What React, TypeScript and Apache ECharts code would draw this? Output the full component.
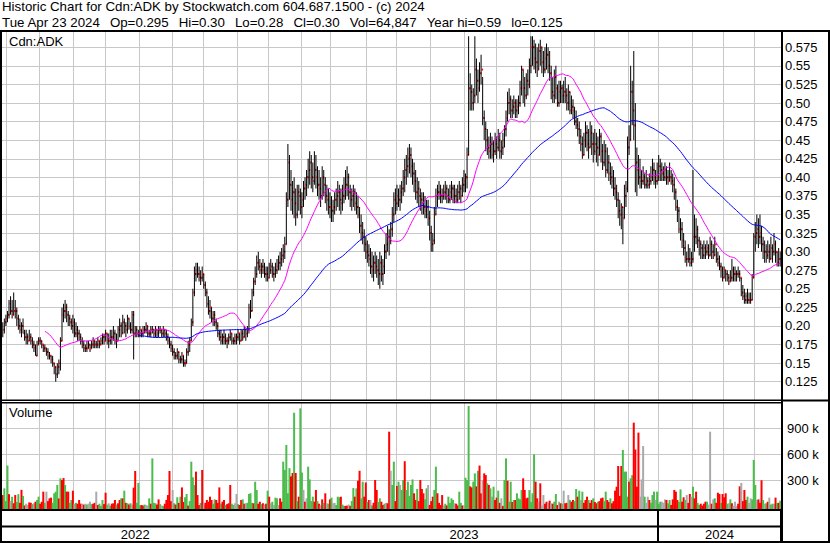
import React, { useEffect, useRef } from "react";
import * as echarts from "echarts";

// ---------- DATA ----------
const START_DATE = "2022-04-27";
const HOLIDAYS = [
  "2022-05-23", "2022-07-01", "2022-08-01", "2022-09-05", "2022-10-10", "2022-12-26", "2022-12-27",
  "2023-01-02", "2023-02-20", "2023-04-07", "2023-05-22", "2023-07-03", "2023-08-07", "2023-09-04",
  "2023-10-09", "2023-12-25", "2023-12-26", "2024-01-01", "2024-02-19", "2024-03-29",
];

const HIGH = [
  .205,.21,.215,.22,.235,.24,.235,.245,.235,.225,
  .215,.21,.205,.21,.195,.195,.19,.195,.19,.185,
  .18,.175,.18,.185,.185,.18,.175,.175,.17,.17,
  .165,.16,.16,.15,.145,.15,.155,.185,.225,.23,
  .235,.23,.22,.215,.21,.215,.21,.205,.20,.195,
  .19,.185,.18,.175,.18,.18,.175,.18,.185,.18,
  .18,.185,.18,.185,.19,.19,.195,.19,.19,.195,
  .195,.20,.195,.19,.20,.21,.205,.215,.21,.205,
  .215,.21,.205,.22,.22,.20,.20,.195,.20,.195,
  .20,.20,.205,.20,.195,.20,.20,.195,.20,.195,
  .20,.20,.195,.20,.195,.195,.19,.185,.18,.175,
  .17,.165,.17,.165,.16,.165,.16,.155,.17,.18,
  .185,.21,.25,.28,.285,.285,.28,.275,.28,.27,
  .26,.25,.24,.235,.225,.22,.22,.21,.205,.195,
  .195,.19,.195,.19,.185,.19,.195,.19,.185,.19,
  .19,.195,.19,.195,.195,.20,.195,.20,.23,.235,
  .25,.265,.28,.295,.30,.29,.285,.29,.285,.28,
  .28,.285,.29,.285,.28,.285,.29,.295,.30,.305,
  .31,.32,.38,.445,.43,.41,.395,.40,.385,.39,
  .39,.385,.38,.395,.40,.41,.425,.435,.43,.42,
  .435,.43,.415,.41,.40,.415,.41,.40,.39,.385,
  .38,.375,.37,.38,.385,.395,.39,.385,.39,.40,
  .41,.415,.405,.39,.385,.39,.385,.38,.375,.36,
  .35,.34,.33,.32,.315,.31,.305,.30,.295,.30,
  .295,.29,.30,.295,.29,.31,.325,.335,.33,.34,
  .36,.38,.385,.39,.385,.39,.395,.41,.425,.43,
  .44,.445,.44,.425,.42,.41,.40,.395,.385,.38,
  .38,.375,.37,.37,.355,.335,.325,.36,.385,.39,
  .395,.39,.385,.39,.395,.39,.385,.39,.395,.39,
  .39,.385,.39,.395,.39,.40,.41,.405,.44,.59,
  .54,.525,.52,.59,.56,.545,.555,.565,.535,.49,
  .475,.465,.455,.46,.455,.45,.46,.455,.465,.46,
  .45,.46,.47,.49,.515,.52,.51,.505,.51,.505,
  .505,.51,.53,.55,.545,.535,.54,.545,.56,.59,
  .59,.585,.58,.575,.58,.585,.575,.57,.575,.58,
  .575,.57,.55,.535,.545,.55,.525,.53,.53,.525,
  .53,.535,.52,.525,.515,.51,.505,.495,.49,.48,
  .475,.465,.455,.46,.475,.47,.465,.475,.47,.46,
  .465,.46,.455,.465,.46,.445,.45,.445,.44,.43,
  .42,.415,.41,.40,.39,.38,.37,.365,.36,.39,
  .395,.455,.47,.55,.53,.57,.50,.44,.43,.425,
  .41,.415,.405,.41,.40,.405,.415,.425,.42,.41,
  .42,.43,.425,.42,.415,.42,.415,.41,.42,.41,
  .405,.40,.385,.37,.36,.345,.34,.325,.315,.30,
  .31,.305,.30,.41,.35,.345,.335,.32,.315,.31,
  .315,.31,.315,.31,.32,.315,.31,.32,.305,.30,
  .295,.285,.28,.28,.275,.275,.27,.275,.29,.28,
  .28,.275,.28,.275,.265,.255,.25,.245,.25,.245,
  .245,.27,.325,.34,.35,.345,.35,.335,.32,.315,
  .31,.315,.31,.32,.31,.325,.315,.30,.305,.30,
];

const LOW = [
  .185,.19,.20,.205,.21,.215,.21,.215,.21,.20,
  .195,.19,.185,.19,.18,.175,.175,.18,.175,.17,
  .165,.16,.16,.175,.175,.17,.165,.165,.16,.155,
  .155,.15,.145,.135,.125,.13,.135,.14,.18,.205,
  .21,.205,.20,.20,.195,.19,.185,.185,.18,.18,
  .175,.17,.165,.165,.165,.17,.165,.17,.17,.17,
  .17,.17,.17,.175,.175,.175,.18,.175,.17,.175,
  .175,.18,.175,.17,.18,.185,.185,.19,.19,.185,
  .19,.195,.19,.19,.155,.185,.185,.185,.185,.185,
  .185,.19,.19,.185,.185,.185,.19,.185,.185,.185,
  .185,.19,.185,.185,.185,.18,.175,.17,.165,.16,
  .155,.155,.155,.15,.15,.15,.145,.145,.15,.16,
  .165,.18,.20,.24,.26,.265,.26,.255,.26,.25,
  .24,.225,.215,.21,.205,.20,.20,.195,.185,.18,
  .175,.175,.175,.175,.17,.175,.18,.175,.175,.175,
  .175,.18,.175,.18,.18,.185,.18,.185,.19,.21,
  .22,.24,.255,.265,.275,.27,.265,.27,.265,.26,
  .26,.265,.27,.265,.26,.265,.27,.275,.275,.28,
  .285,.29,.31,.36,.37,.355,.35,.345,.335,.345,
  .355,.35,.345,.36,.37,.375,.385,.39,.385,.38,
  .39,.385,.375,.37,.36,.37,.375,.365,.355,.35,
  .345,.34,.34,.35,.355,.36,.355,.35,.355,.365,
  .37,.375,.37,.36,.355,.36,.355,.35,.345,.325,
  .315,.31,.30,.29,.285,.28,.27,.265,.26,.27,
  .265,.255,.25,.26,.255,.27,.29,.30,.295,.31,
  .32,.34,.35,.355,.36,.355,.365,.375,.38,.39,
  .40,.405,.40,.39,.38,.37,.365,.36,.355,.35,
  .35,.345,.345,.335,.315,.30,.30,.31,.35,.36,
  .37,.365,.365,.37,.37,.365,.365,.365,.37,.365,
  .365,.365,.365,.37,.365,.375,.38,.38,.385,.43,
  .49,.49,.49,.50,.51,.50,.515,.525,.47,.45,
  .435,.43,.425,.425,.425,.42,.43,.425,.435,.425,
  .425,.43,.44,.455,.475,.485,.48,.48,.485,.48,
  .48,.485,.495,.51,.50,.495,.505,.51,.52,.54,
  .55,.545,.54,.535,.545,.55,.54,.535,.54,.545,
  .54,.53,.505,.50,.50,.505,.495,.495,.50,.50,
  .50,.50,.49,.49,.485,.485,.48,.47,.465,.455,
  .445,.435,.425,.43,.44,.435,.425,.44,.43,.42,
  .43,.42,.415,.43,.42,.41,.415,.40,.405,.395,
  .39,.385,.375,.37,.36,.345,.335,.33,.31,.345,
  .36,.38,.43,.45,.47,.45,.38,.375,.39,.385,
  .385,.39,.385,.385,.385,.385,.39,.395,.39,.385,
  .39,.395,.395,.395,.395,.395,.39,.39,.395,.39,
  .38,.37,.355,.34,.325,.315,.305,.295,.285,.28,
  .285,.28,.28,.285,.30,.31,.305,.295,.29,.29,
  .29,.29,.295,.29,.295,.29,.29,.295,.285,.28,
  .275,.265,.26,.265,.26,.26,.255,.26,.26,.26,
  .26,.26,.265,.26,.24,.235,.23,.23,.23,.23,
  .23,.235,.265,.30,.31,.305,.31,.30,.29,.285,
  .285,.29,.285,.29,.285,.295,.285,.28,.28,.28,
];

const CLOSE = [
  .195,.205,.21,.215,.23,.22,.215,.22,.22,.21,
  .20,.195,.20,.19,.185,.185,.18,.185,.18,.175,
  .17,.16,.175,.18,.18,.175,.17,.17,.165,.16,
  .16,.155,.15,.145,.135,.145,.15,.18,.215,.22,
  .225,.215,.21,.205,.20,.205,.19,.195,.19,.185,
  .18,.175,.17,.17,.17,.175,.17,.175,.18,.175,
  .175,.18,.175,.18,.185,.18,.19,.18,.18,.185,
  .185,.19,.18,.18,.195,.20,.19,.205,.20,.195,
  .21,.20,.195,.215,.19,.195,.19,.19,.195,.19,
  .195,.195,.20,.19,.19,.195,.195,.19,.195,.19,
  .195,.195,.19,.195,.19,.185,.18,.175,.17,.165,
  .16,.16,.165,.155,.155,.16,.15,.15,.165,.175,
  .18,.205,.245,.27,.275,.27,.265,.265,.27,.255,
  .245,.23,.22,.225,.21,.215,.205,.20,.19,.185,
  .18,.185,.18,.18,.18,.185,.19,.18,.18,.185,
  .185,.19,.18,.19,.185,.195,.19,.195,.225,.22,
  .245,.26,.27,.285,.28,.275,.28,.275,.27,.27,
  .265,.275,.28,.27,.27,.275,.28,.285,.29,.295,
  .30,.31,.37,.42,.39,.37,.38,.365,.35,.38,
  .375,.36,.37,.385,.39,.40,.41,.42,.40,.395,
  .41,.40,.39,.385,.375,.40,.39,.375,.37,.36,
  .36,.355,.36,.37,.375,.38,.37,.365,.375,.385,
  .39,.40,.38,.37,.375,.38,.365,.36,.35,.335,
  .325,.32,.31,.30,.295,.29,.28,.275,.285,.28,
  .275,.27,.285,.27,.28,.30,.31,.32,.315,.33,
  .35,.37,.365,.375,.37,.38,.385,.40,.41,.415,
  .425,.43,.415,.405,.395,.38,.385,.375,.37,.365,
  .36,.355,.36,.345,.325,.31,.315,.35,.375,.38,
  .38,.375,.375,.38,.385,.375,.37,.38,.385,.375,
  .375,.37,.38,.385,.375,.39,.395,.40,.43,.52,
  .515,.50,.51,.545,.53,.52,.54,.545,.48,.465,
  .45,.44,.435,.445,.43,.435,.445,.44,.45,.435,
  .44,.45,.465,.48,.50,.505,.49,.495,.50,.49,
  .495,.50,.52,.545,.52,.51,.53,.525,.55,.575,
  .575,.56,.555,.545,.57,.575,.555,.545,.56,.565,
  .55,.54,.515,.51,.535,.52,.50,.515,.52,.51,
  .515,.51,.50,.515,.49,.495,.49,.475,.47,.465,
  .455,.445,.43,.45,.46,.445,.44,.46,.445,.435,
  .445,.44,.43,.455,.435,.42,.435,.41,.42,.405,
  .40,.395,.385,.38,.37,.355,.35,.36,.345,.375,
  .385,.44,.45,.515,.49,.47,.42,.41,.40,.395,
  .395,.40,.39,.395,.39,.395,.40,.41,.40,.395,
  .40,.415,.41,.405,.40,.41,.40,.395,.40,.395,
  .39,.38,.36,.355,.33,.33,.315,.305,.29,.29,
  .29,.285,.29,.32,.32,.33,.315,.31,.305,.295,
  .305,.30,.305,.295,.31,.30,.295,.31,.29,.285,
  .28,.275,.265,.275,.27,.265,.26,.265,.275,.27,
  .27,.27,.27,.265,.245,.24,.235,.24,.235,.235,
  .235,.265,.32,.325,.33,.32,.325,.31,.30,.30,
  .295,.30,.29,.305,.30,.31,.30,.285,.29,.30,
];

// daily volume in thousands of shares
const VOLUME_K = [
  130,207,60,470,140,60,110,35,130,50,
  140,40,190,120,10,30,15,45,40,25,
  35,53,73,111,30,53,169,40,169,60,
  92,100,40,150,169,246,90,323,303,326,
  246,169,169,40,73,180,30,40,30,73,
  30,30,20,30,20,30,53,25,30,40,
  169,15,30,5,73,25,157,20,35,8,
  30,35,73,20,35,73,92,92,180,40,
  35,20,35,20,215,407,40,270,10,15,
  8,20,15,8,92,30,553,40,35,20,
  80,25,8,5,30,73,130,407,60,188,
  35,20,104,40,111,218,50,104,142,8,
  60,515,335,246,400,130,15,40,419,15,
  40,73,53,111,73,30,80,73,40,218,
  30,53,73,15,25,35,246,30,15,35,
  142,25,15,73,80,30,35,40,142,150,
  40,35,284,188,30,53,25,35,20,30,
  180,111,35,53,15,100,92,15,92,53,
  515,420,707,150,440,345,385,1080,385,60,
  111,1130,390,190,53,92,457,310,60,111,
  53,188,60,30,10,80,40,150,35,30,
  80,100,35,40,15,111,104,111,20,5,
  5,8,20,5,60,210,111,207,295,410,
  90,284,111,275,50,73,73,10,40,303,
  188,50,92,53,15,30,40,35,861,410,
  246,515,60,235,284,246,188,303,520,188,
  284,120,246,310,150,73,200,60,303,200,
  150,80,207,246,15,60,111,188,457,150,
  40,15,130,10,30,10,111,40,92,73,
  35,30,10,169,40,10,10,330,303,1157,
  230,218,284,380,230,410,470,150,303,380,
  360,265,246,207,111,226,73,100,180,40,
  92,5,303,553,295,53,284,50,73,73,
  150,92,80,188,323,188,92,100,188,50,
  150,600,284,92,53,265,10,130,30,53,
  40,65,35,30,53,142,15,53,35,30,
  180,35,40,130,73,53,73,60,200,111,
  180,73,169,40,73,111,73,40,73,92,
  50,35,53,60,92,100,60,169,73,50,
  92,35,60,180,226,465,120,465,650,400,
  400,111,284,323,360,965,655,226,850,111,
  310,695,111,40,111,73,40,130,169,73,
  169,30,53,53,40,80,73,35,73,15,
  80,188,169,73,50,195,53,104,73,130,
  40,142,111,226,92,169,40,15,30,8,
  30,53,53,20,861,30,80,92,40,157,
  142,40,142,104,150,30,35,80,35,5,
  53,5,30,230,270,60,188,73,111,40,
  92,80,535,246,73,80,40,300,73,30,
  35,53,100,20,30,30,100,40,40,65,
];

// volume bar colour: u = up (green), d = down (red), n = unchanged (grey)
const VOLUME_DIR = [
  "duuudnuddu","uddudnnddu","nduudddund","dduuuududd","udduudnudd",
  "dndnunnudd","nduuuddunu","ddduddudud","udundduuud","dunnuduuud",
  "dunudddddn","udududduud","uuuudddudn","ddddduuddd","udduddduun",
  "nuddudnuuu","uduuddudnd","udnunuundd","uuuuuddudu","duundnuuuu",
  "ddudndudnu","dunnuuuduu","ddnduududd","uuddudnudd","duuddunddn",
  "uuddunuudu","uuuudduddd","duunddduud","dddnuduuuu","ndduudnuuu",
  "dduududdnd","dudunuddud","nduuduudud","uuuudddduu","uuddndnndd",
  "ndnduudndu","nddnudduud","unuddduddu","dduddduudd","uddddddduu",
  "uuduuddddn","nnunnduuun","uuunnnduud","dddduuddun","ddnudduudd",
  "ddunndnudd","dudddunudn","nnddndddun","nuuundddun","udnuundudu",
].join("");

const MA_FAST = 28;
const MA_SLOW = 88;

const TITLE_1 = "Historic Chart for Cdn:ADK by Stockwatch.com 604.687.1500 - (c) 2024";
const SEP = "\u00A0\u00A0\u2009";
const TITLE_2 = [
  "Tue Apr 23 2024", "Op=0.295", "Hi=0.30", "Lo=0.28", "Cl=0.30", "Vol=64,847", "Year hi=0.59", "lo=0.125",
].join(SEP);
const SYMBOL_LABEL = "Cdn:ADK";
const VOLUME_LABEL = "Volume";

// ---------- helpers ----------
const FONT_FAMILY = "Liberation Sans";
const FONT_SIZE = 13;
const TITLE_SIZE = 13.3;
const UP = "#4cbc4c";
const DOWN = "#ff0000";
const FLAT = "#aaaaaa";

function tradingDays(start: string, count: number): string[] {
  const out: string[] = [];
  const d = new Date(start + "T12:00:00Z");
  while (out.length < count) {
    const dow = d.getUTCDay();
    const s = d.toISOString().slice(0, 10);
    if (dow !== 0 && dow !== 6 && HOLIDAYS.indexOf(s) < 0) out.push(s);
    d.setUTCDate(d.getUTCDate() + 1);
  }
  return out;
}

function sma(arr: number[], n: number): (number | null)[] {
  return arr.map((_, i) => {
    if (i < n - 1) return null;
    let s = 0;
    for (let k = i - n + 1; k <= i; k++) s += arr[k];
    return +(s / n).toFixed(5);
  });
}

function fmtPrice(v: number): string {
  const s = v.toFixed(3);
  return s.endsWith("0") ? s.slice(0, -1) : s;
}

export default function App() {
  const ref = useRef<HTMLDivElement>(null);

  useEffect(() => {
    if (!ref.current) return;
    const chart = echarts.init(ref.current, undefined, { renderer: "svg" });

    const N = CLOSE.length;
    const dates = tradingDays(START_DATE, N);
    const monthStart = new Set<number>();
    const yearStart = new Set<number>();
    const yearRanges: { year: string; first: number; last: number }[] = [];
    dates.forEach((d, i) => {
      const y = d.slice(0, 4);
      if (i > 0 && d.slice(0, 7) !== dates[i - 1].slice(0, 7)) monthStart.add(i);
      if (i > 0 && y !== dates[i - 1].slice(0, 4)) yearStart.add(i);
      const last = yearRanges[yearRanges.length - 1];
      if (!last || last.year !== y) yearRanges.push({ year: y, first: i, last: i });
      else last.last = i;
    });
    const yearLabels = yearRanges.map((r) => ({ year: r.year, mid: Math.round((r.first + r.last) / 2) }));

    const priceData = CLOSE.map((c, i) => [i, LOW[i], HIGH[i], c]);
    const volColors = VOLUME_K.map((_, i) => {
      const ch = VOLUME_DIR.charAt(i);
      return ch === "u" ? UP : ch === "d" ? DOWN : FLAT;
    });
    const volData = VOLUME_K.map((v, i) => [i, v * 1000]);
    const fast = sma(CLOSE, MA_FAST);
    const slow = sma(CLOSE, MA_SLOW);

    const VOL_PANEL_BOTTOM = 509;

    const xAxisBase = (gridIndex: number, split: any) => ({
      type: "category",
      gridIndex,
      data: dates,
      boundaryGap: true,
      axisLine: { show: false },
      axisTick: { show: false },
      axisLabel: { show: false },
      splitLine: split,
    });

    const gridSplit = {
      show: true,
      interval: (i: number) => monthStart.has(i),
      lineStyle: { color: "#c8c8c8", width: 1 },
    };

    const axisLabelBase = {
      margin: 4,
      color: "#000",
      fontSize: FONT_SIZE,
      fontFamily: FONT_FAMILY,
      showMinLabel: false,
      showMaxLabel: false,
    };

    const rect = (x: number, y: number, w: number, h: number, fill = "#000", z = 100) => ({
      type: "rect",
      shape: { x, y, width: w, height: h },
      style: { fill },
      z,
      silent: true,
    });
    const text = (x: number, y: number, t: string, size = FONT_SIZE) => ({
      type: "text",
      x,
      y,
      style: {
        text: t,
        fontSize: size,
        fontFamily: FONT_FAMILY,
        fill: "#000",
        verticalAlign: "top",
        align: "left",
      },
      z: 110,
      silent: true,
    });

    const option: any = {
      animation: false,
      backgroundColor: "#ffffff",
      textStyle: { fontFamily: FONT_FAMILY },
      grid: [
        { left: 2, top: 28.7, width: 779, height: 371.6, containLabel: false, outerBoundsMode: "none" },
        { left: 2, top: 402.3, width: 779, height: 104, containLabel: false, outerBoundsMode: "none" },
        { left: 2, top: 510, width: 779, height: 32, containLabel: false, outerBoundsMode: "none" },
      ],
      xAxis: [
        xAxisBase(0, gridSplit),
        xAxisBase(1, gridSplit),
        xAxisBase(2, { show: true, interval: (i: number) => yearStart.has(i), lineStyle: { color: "#000", width: 2 } }),
      ],
      yAxis: [
        {
          type: "value",
          gridIndex: 0,
          position: "right",
          min: 0.1,
          max: 0.6,
          interval: 0.025,
          axisLine: { show: false },
          axisTick: { show: false },
          splitLine: { show: true, lineStyle: { color: "#c8c8c8", width: 1 } },
          axisLabel: { ...axisLabelBase, formatter: (v: number) => fmtPrice(v) },
        },
        {
          type: "value",
          gridIndex: 1,
          position: "right",
          min: 0,
          max: 1200000,
          interval: 300000,
          axisLine: { show: false },
          axisTick: { show: false },
          splitLine: { show: true, lineStyle: { color: "#c8c8c8", width: 1 } },
          axisLabel: { ...axisLabelBase, margin: 6, formatter: (v: number) => `${Math.round(v / 1000)} k` },
        },
        { type: "value", gridIndex: 2, min: 0, max: 1, show: false },
      ],
      series: [
        {
          type: "custom",
          name: "price",
          xAxisIndex: 0,
          yAxisIndex: 0,
          data: priceData,
          encode: { x: 0, y: [1, 2, 3] },
          silent: true,
          z: 2,
          renderItem: (params: any, api: any) => {
            const i = api.value(0);
            const lo = api.coord([i, api.value(1)]);
            const hi = api.coord([i, api.value(2)]);
            const cl = api.coord([i, api.value(3)]);
            const x = lo[0];
            return {
              type: "group",
              children: [
                {
                  type: "rect",
                  shape: { x: x - 0.5, y: hi[1], width: 1, height: Math.max(1, lo[1] - hi[1]) },
                  style: { fill: "#000" },
                },
                {
                  type: "rect",
                  shape: { x: x + 0.5, y: cl[1] - 1, width: 1.5, height: 2 },
                  style: { fill: "#ff0000" },
                },
              ],
            };
          },
        },
        {
          type: "line",
          name: "MA fast",
          xAxisIndex: 0,
          yAxisIndex: 0,
          data: fast,
          symbol: "none",
          silent: true,
          z: 3,
          lineStyle: { color: "#ff00ff", width: 1 },
        },
        {
          type: "line",
          name: "MA slow",
          xAxisIndex: 0,
          yAxisIndex: 0,
          data: slow,
          symbol: "none",
          silent: true,
          z: 3,
          lineStyle: { color: "#0000ff", width: 1 },
        },
        {
          type: "custom",
          name: "volume",
          xAxisIndex: 1,
          yAxisIndex: 1,
          data: volData,
          encode: { x: 0, y: 1 },
          silent: true,
          z: 2,
          clip: false,
          renderItem: (params: any, api: any) => {
            const p = api.coord([api.value(0), api.value(1)]);
            return {
              type: "rect",
              shape: { x: p[0] - 1, y: p[1], width: 2, height: VOL_PANEL_BOTTOM - p[1] },
              style: { fill: volColors[params.dataIndex] },
            };
          },
        },
        {
          type: "custom",
          name: "years",
          xAxisIndex: 2,
          yAxisIndex: 2,
          data: yearLabels.map((y) => [y.mid, 0.22]),
          encode: { x: 0, y: 1 },
          silent: true,
          renderItem: (params: any, api: any) => {
            const p = api.coord([api.value(0), api.value(1)]);
            return {
              type: "text",
              x: p[0],
              y: p[1],
              style: {
                text: yearLabels[params.dataIndex].year,
                fontSize: FONT_SIZE,
                fontFamily: FONT_FAMILY,
                fill: "#000",
                align: "center",
                verticalAlign: "middle",
              },
            };
          },
        },
      ],
      graphic: {
        elements: [
          rect(0, 0, 830, 30, "#ffffff", 90),
          text(2, 0, TITLE_1, TITLE_SIZE),
          text(2, 15.5, TITLE_2, TITLE_SIZE),
          text(9, 35, SYMBOL_LABEL),
          text(9, 406, VOLUME_LABEL),
          // frame
          rect(0, 30, 830, 2),
          rect(0, 30, 2, 513),
          rect(781, 30, 2, 513),
          rect(828, 30, 2, 513),
          rect(0, 399.5, 781, 1.4),
          rect(0, 402, 781, 1.4),
          rect(781, 399.5, 49, 2),
          rect(0, 509, 781, 2),
          rect(0, 525.5, 781, 2),
          rect(0, 541, 830, 2),
        ],
      },
    };

    chart.setOption(option);
    return () => chart.dispose();
  }, []);

  return (
    <div
      ref={ref}
      style={{ position: "absolute", left: 0, top: 0, width: 830, height: 543, background: "#fff" }}
    />
  );
}
